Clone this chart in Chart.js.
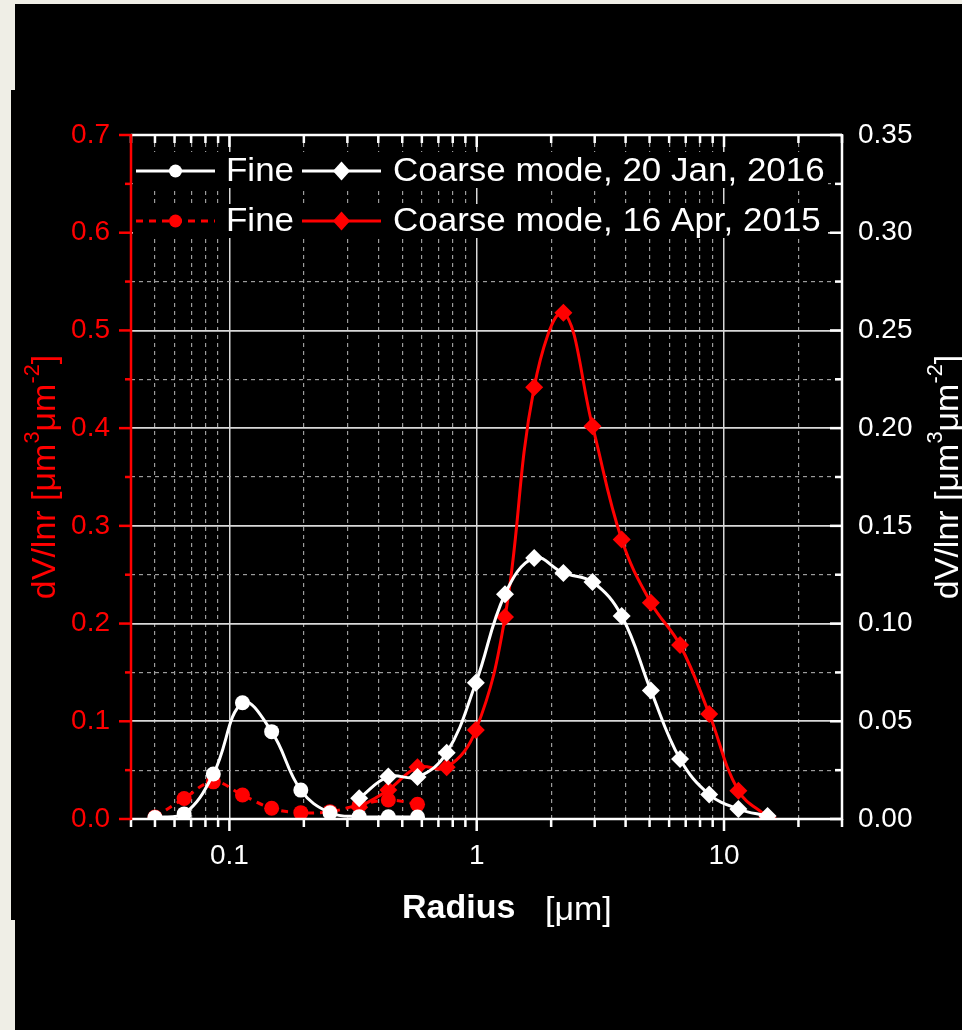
<!DOCTYPE html>
<html>
<head>
<meta charset="utf-8">
<script src="https://cdn.jsdelivr.net/npm/chart.js@4.4.1/dist/chart.umd.min.js"></script>
<style>
  html, body { margin: 0; padding: 0; }
  body { background: #efeee6; width: 962px; height: 1030px; overflow: hidden; position: relative; }
  .blk { position: absolute; background: #000; }
  #wrap { position: absolute; left: 0; top: 0; width: 962px; height: 1030px; }
</style>
</head>
<body>
<div class="blk" style="left:15px;top:4px;width:947px;height:1026px"></div>
<div class="blk" style="left:11px;top:90px;width:10px;height:830px"></div>
<div id="wrap"><canvas id="c" width="962" height="1030"></canvas></div>
<script>
// AERONET radius bins (µm)
const radius = [0.05, 0.065604, 0.086077, 0.112939, 0.148184, 0.194429, 0.255105, 0.334716,
  0.439173, 0.576227, 0.756052, 0.991996, 1.301571, 1.707757, 2.240702, 2.939966,
  3.857452, 5.06126, 6.640745, 8.713145, 11.432287, 15.0];

// 20 Jan 2016 (right axis)
const fineJan = [0.0008, 0.0026, 0.023, 0.0595, 0.0447, 0.0148, 0.0032, 0.0012, 0.0011, 0.001,
  null, null, null, null, null, null, null, null, null, null, null, null];
const coarseJan = [null, null, null, null, null, null, null, 0.0106, 0.0217, 0.0215, 0.0339,
  0.0697, 0.115, 0.1336, 0.1259, 0.1213, 0.1039, 0.0657, 0.0307, 0.0126, 0.0051, 0.0015];

// 16 Apr 2015 (left axis)
const fineApr = [0.002, 0.021, 0.038, 0.0246, 0.011, 0.0065, 0.0075, 0.0143, 0.0194, 0.015,
  null, null, null, null, null, null, null, null, null, null, null, null];
const coarseApr = [null, null, null, null, null, null, null, 0.012, 0.0297, 0.0529, 0.0529,
  0.091, 0.2067, 0.4418, 0.518, 0.402, 0.286, 0.2214, 0.178, 0.1075, 0.029, 0.002];

const xTicks = [0.04, 0.05, 0.06, 0.07, 0.08, 0.09, 0.1, 0.2, 0.3, 0.4, 0.5, 0.6, 0.7, 0.8, 0.9,
  1, 2, 3, 4, 5, 6, 7, 8, 9, 10, 20, 30];
const xMajor = [0.1, 1, 10];
const yLeftTicks = [0, 0.05, 0.1, 0.15, 0.2, 0.25, 0.3, 0.35, 0.4, 0.45, 0.5, 0.55, 0.6, 0.65, 0.7];
const yRightTicks = [0, 0.025, 0.05, 0.075, 0.1, 0.125, 0.15, 0.175, 0.2, 0.225, 0.25, 0.275, 0.3, 0.325, 0.35];

const legendRows = [
  ['Fine', 'Coarse mode, 20 Jan, 2016'],
  ['Fine', 'Coarse mode, 16 Apr, 2015']
];

const FONT = "'Liberation Sans', Arial, sans-serif";
const RED = '#ff0000';

function pts(arr) {
  return radius.map((r, i) => ({ x: r, y: arr[i] })).filter(p => p.y !== null);
}
function isMajorY(v) { return Math.abs(v * 10 - Math.round(v * 10)) < 1e-6; }
function isMajorR(v) { return Math.abs(v * 20 - Math.round(v * 20)) < 1e-6; }

function drawMarker(ctx, style, x, y, r, color) {
  ctx.fillStyle = color;
  ctx.beginPath();
  if (style === 'circle') {
    ctx.arc(x, y, r, 0, Math.PI * 2);
  } else {
    ctx.moveTo(x, y - r); ctx.lineTo(x + r * 0.9, y); ctx.lineTo(x, y + r); ctx.lineTo(x - r * 0.9, y);
    ctx.closePath();
  }
  ctx.fill();
}

function drawRich(ctx, parts, size) {
  // parts: [text, isSup], centred on 0
  let w = 0;
  parts.forEach(([t, sup]) => {
    ctx.font = (sup ? size * 0.64 : size) + 'px ' + FONT;
    w += ctx.measureText(t).width;
  });
  let x = -w / 2;
  parts.forEach(([t, sup]) => {
    ctx.font = (sup ? size * 0.64 : size) + 'px ' + FONT;
    ctx.fillText(t, x, sup ? -size * 0.38 : 0);
    x += ctx.measureText(t).width;
  });
}

const frame = {
  id: 'frame',
  afterDraw(chart) {
    const { ctx, chartArea: a, scales } = chart;
    const sx = scales.x, sy = scales.y, sr = scales.yR;
    ctx.save();
    ctx.lineCap = 'butt';

    // legend
    const rowsY = [171, 221];
    ctx.fillStyle = '#000';
    ctx.fillRect(a.left + 2, 152, 695, 36);
    ctx.fillRect(a.left + 2, 204, 695, 34);
    const sets = chart.data.datasets;
    const order = [[0, 1], [2, 3]];
    rowsY.forEach((y, r) => {
      const segs = [[136, 215, 226], [302, 381, 393]];
      order[r].forEach((di, k) => {
        const ds = sets[di];
        const [x0, x1, tx] = segs[k];
        ctx.strokeStyle = ds.borderColor;
        ctx.lineWidth = 3;
        ctx.setLineDash(ds.borderDash || []);
        ctx.beginPath(); ctx.moveTo(x0, y); ctx.lineTo(x1, y); ctx.stroke();
        ctx.setLineDash([]);
        drawMarker(ctx, ds.pointStyle, (x0 + x1) / 2, y, ds.pointStyle === 'circle' ? 6.5 : 9.5, ds.borderColor);
        ctx.save();
        ctx.translate(tx, y + 1);
        ctx.scale(1.06, 1);
        ctx.fillStyle = '#fff';
        ctx.font = '33px ' + FONT;
        ctx.textBaseline = 'middle';
        ctx.textAlign = 'left';
        ctx.fillText(legendRows[r][k], 0, 0);
        ctx.restore();
      });
    });

    // axis lines
    ctx.lineWidth = 2.5;
    ctx.strokeStyle = '#fff';
    ctx.beginPath();
    ctx.moveTo(a.left, a.top); ctx.lineTo(a.right, a.top);
    ctx.moveTo(a.left, a.bottom); ctx.lineTo(a.right, a.bottom);
    ctx.moveTo(a.right, a.top - 1); ctx.lineTo(a.right, a.bottom + 1);
    ctx.stroke();
    // x ticks: top inward, bottom outward
    xTicks.forEach(v => {
      const px = sx.getPixelForValue(v);
      const len = xMajor.includes(v) ? 12 : 8;
      ctx.beginPath();
      ctx.moveTo(px, a.top); ctx.lineTo(px, a.top + len);
      ctx.moveTo(px, a.bottom); ctx.lineTo(px, a.bottom + len);
      ctx.stroke();
    });
    // right ticks inward
    yRightTicks.forEach(v => {
      const py = sr.getPixelForValue(v);
      const len = isMajorR(v) ? 12 : 7;
      ctx.beginPath(); ctx.moveTo(a.right, py); ctx.lineTo(a.right - len, py); ctx.stroke();
    });
    // left axis red, ticks outward
    ctx.strokeStyle = RED;
    ctx.beginPath(); ctx.moveTo(a.left, a.top - 1); ctx.lineTo(a.left, a.bottom + 1); ctx.stroke();
    yLeftTicks.forEach(v => {
      const py = sy.getPixelForValue(v);
      const len = isMajorY(v) ? 12 : 6;
      ctx.beginPath(); ctx.moveTo(a.left, py); ctx.lineTo(a.left - len, py); ctx.stroke();
    });

    // axis titles
    const cy = (a.top + a.bottom) / 2;
    const parts = [['dV/lnr [μm', false], ['3', true], ['μm', false], ['-2', true], [']', false]];
    ctx.textBaseline = 'middle';
    ctx.textAlign = 'left';
    ctx.save();
    ctx.translate(46, cy);
    ctx.rotate(-Math.PI / 2);
    ctx.fillStyle = RED;
    drawRich(ctx, parts, 34);
    ctx.restore();
    ctx.save();
    ctx.translate(949, cy);
    ctx.rotate(-Math.PI / 2);
    ctx.fillStyle = '#fff';
    drawRich(ctx, parts, 34);
    ctx.restore();

    ctx.fillStyle = '#fff';
    ctx.textBaseline = 'alphabetic';
    ctx.font = 'bold 34px ' + FONT;
    ctx.fillText('Radius', 402, 918);
    ctx.font = '34px ' + FONT;
    ctx.fillText('[μm]', 545, 920);
    ctx.restore();
  }
};

const gridColor = c => (c.tick && c.tick.major) ? '#d8d8d8' : '#9c9c9c';
const gridDash = c => (c.tick && !c.tick.major) ? [4, 4] : [];

new Chart(document.getElementById('c'), {
  type: 'line',
  data: {
    datasets: [
      { label: 'Fine, 20 Jan, 2016', data: pts(fineJan), yAxisID: 'yR',
        borderColor: '#fff', backgroundColor: '#fff', borderWidth: 3,
        pointStyle: 'circle', pointRadius: 7.5, pointBorderWidth: 0 },
      { label: 'Coarse mode, 20 Jan, 2016', data: pts(coarseJan), yAxisID: 'yR',
        borderColor: '#fff', backgroundColor: '#fff', borderWidth: 3,
        pointStyle: 'rectRot', pointRadius: 9, pointBorderWidth: 0 },
      { label: 'Fine, 16 Apr, 2015', data: pts(fineApr), yAxisID: 'y',
        borderColor: RED, backgroundColor: RED, borderWidth: 3, borderDash: [7, 6],
        pointStyle: 'circle', pointRadius: 7.5, pointBorderWidth: 0 },
      { label: 'Coarse mode, 16 Apr, 2015', data: pts(coarseApr), yAxisID: 'y',
        borderColor: RED, backgroundColor: RED, borderWidth: 3,
        pointStyle: 'rectRot', pointRadius: 9, pointBorderWidth: 0 }
    ]
  },
  options: {
    responsive: false,
    animation: false,
    layout: { padding: { top: 135, left: 0, right: 0, bottom: 0 } },
    elements: { line: { tension: 0.4 } },
    plugins: { legend: { display: false }, tooltip: { enabled: false } },
    scales: {
      x: {
        type: 'logarithmic', position: 'bottom', min: 0.04, max: 30,
        afterBuildTicks: s => { s.ticks = xTicks.map(v => ({ value: v, major: xMajor.includes(v) })); },
        afterFit: s => { s.height = 211; },
        grid: { color: gridColor, lineWidth: c => (c.tick && c.tick.major) ? 1.5 : 1.2, drawTicks: false },
        border: { display: false, dash: gridDash },
        ticks: {
          color: '#fff', font: { family: FONT, size: 28 }, padding: 20,
          autoSkip: false, maxRotation: 0,
          callback: v => xMajor.includes(v) ? String(v) : ''
        }
      },
      y: {
        type: 'linear', position: 'left', min: 0, max: 0.7,
        afterBuildTicks: s => { s.ticks = yLeftTicks.map(v => ({ value: v, major: isMajorY(v) })); },
        afterFit: s => { s.width = 131; },
        grid: { color: gridColor, lineWidth: c => (c.tick && c.tick.major) ? 1.8 : 1.2, drawTicks: false },
        border: { display: false, dash: gridDash },
        ticks: {
          color: RED, font: { family: FONT, size: 28 }, padding: 21, autoSkip: false,
          callback: v => isMajorY(v) ? v.toFixed(1) : ''
        }
      },
      yR: {
        type: 'linear', position: 'right', min: 0, max: 0.35,
        afterBuildTicks: s => { s.ticks = yRightTicks.map(v => ({ value: v, major: isMajorR(v) })); },
        afterFit: s => { s.width = 120; },
        grid: { drawOnChartArea: false, drawTicks: false },
        border: { display: false },
        ticks: {
          color: '#fff', font: { family: FONT, size: 28 }, padding: 16, autoSkip: false,
          callback: v => isMajorR(v) ? v.toFixed(2) : ''
        }
      }
    }
  },
  plugins: [frame]
});
</script>
</body>
</html>
